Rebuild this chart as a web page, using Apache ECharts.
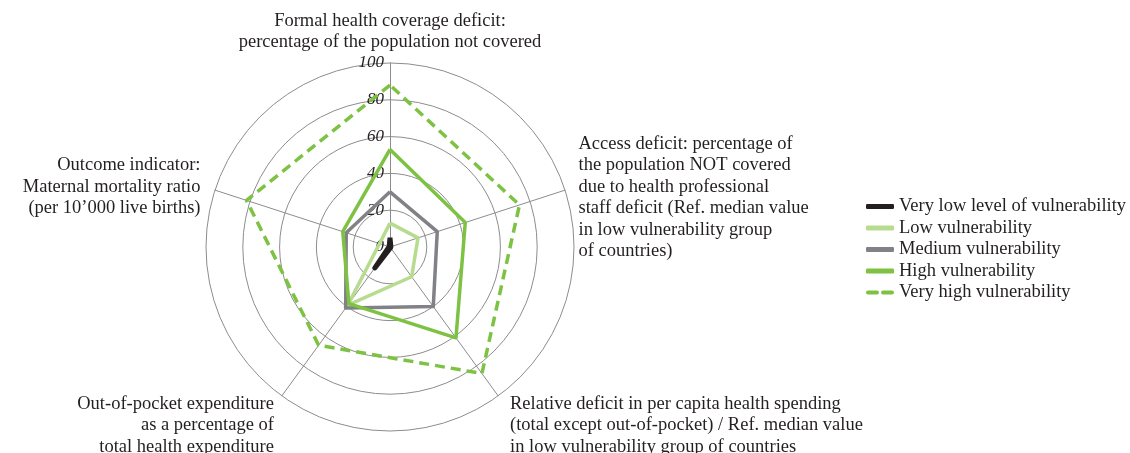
<!DOCTYPE html>
<html>
<head>
<meta charset="utf-8">
<script src="https://cdn.jsdelivr.net/npm/echarts@6/dist/echarts.min.js"></script>
<style>
  html, body { margin: 0; padding: 0; background: #fff; }
  #chart_radar { width: 1130px; height: 453px; }
</style>
</head>
<body>
<div id="chart_radar"></div>
<script>
// Ejes (orden antihorario desde arriba, como los coloca el radar)
var indicators = [
  'Formal health coverage deficit:\npercentage of the population not covered',
  'Outcome indicator:\nMaternal mortality ratio\n(per 10\u2019000 live births)',
  'Out-of-pocket expenditure\nas a percentage of\ntotal health expenditure',
  'Relative deficit in per capita health spending\n(total except out-of-pocket) / Ref. median value\nin low vulnerability group of countries',
  'Access deficit: percentage of\nthe population NOT covered\ndue to health professional\nstaff deficit (Ref. median value\nin low vulnerability group\nof countries)'
];

var groups = [
  'Very low level of vulnerability',
  'Low vulnerability',
  'Medium vulnerability',
  'High vulnerability',
  'Very high vulnerability'
];

var veryLow = [5, 0.5, 14, 0.5, 0.5];
var low = [13, 6, 39, 20, 16];
var medium = [30, 25, 41, 40, 27];
var high = [53, 27, 38, 61, 43];
var veryHigh = [88, 82, 66, 85, 74];

var colors = ['#231f20', '#b7dc8f', '#808285', '#7dc242', '#7dc242'];

// Lineas vacias delante del nombre para bajarlo un poco, y relleno lateral
var nameShift = ['', '', '\n\n', '\n\n', '\n'];
var namePadding = [
  [0, 0, 0, 0],
  [0, 5, 0, 0],
  [0, 2, 0, 0],
  [0, 0, 0, 6],
  [0, 0, 0, 4]
];

var myChart = echarts.init(document.getElementById('chart_radar'));

var serif = 'Liberation Serif';
var txt = '#231f20';

var values = [veryLow, low, medium, high, veryHigh];

var option = {
  animation: false,
  legend: {
    orient: 'vertical',
    left: 861,
    top: 192,
    itemWidth: 28,
    itemHeight: 5,
    itemGap: 2.5,
    textStyle: { fontFamily: serif, fontSize: 18.5, color: txt, lineHeight: 18 },
    itemStyle: { borderWidth: 0 },
    data: groups.map(function (g, i) {
      return {
        name: g,
        icon: i === 4 ? 'path://M2,0 h9 a2,2 0 0 1 0,4 h-9 a2,2 0 0 1 0,-4 Z M17,0 h9 a2,2 0 0 1 0,4 h-9 a2,2 0 0 1 0,-4 Z' : 'roundRect'
      };
    })
  },
  radar: {
    center: [390, 247],
    radius: 184,
    shape: 'circle',
    splitNumber: 5,
    nameGap: 10,
    axisName: { fontFamily: serif, fontSize: 18.5, color: txt, lineHeight: 21.5 },
    axisLine: { lineStyle: { color: '#8c8c8c', width: 1 } },
    splitLine: { lineStyle: { color: '#8c8c8c', width: 1 } },
    splitArea: { show: false },
    axisTick: { show: false },
    axisLabel: { show: false },
    indicator: indicators.map(function (name, i) {
      var ind = {
        name: nameShift[i] + name,
        min: 0,
        max: 100,
        nameTextStyle: { padding: namePadding[i] }
      };
      if (i === 0) {
        ind.axisLabel = {
          show: true,
          fontFamily: serif,
          fontStyle: 'italic',
          fontSize: 17,
          color: txt,
          margin: 6
        };
      }
      return ind;
    })
  },
  series: [
    {
      type: 'radar',
      symbol: 'none',
      data: groups.map(function (g, i) {
        return {
          name: g,
          value: values[i],
          itemStyle: { color: colors[i] },
          lineStyle: {
            color: colors[i],
            width: i === 0 ? 5 : 3.5,
            type: i === 4 ? [10, 6] : 'solid'
          }
        };
      })
    }
  ]
};

myChart.setOption(option);
</script>
</body>
</html>
